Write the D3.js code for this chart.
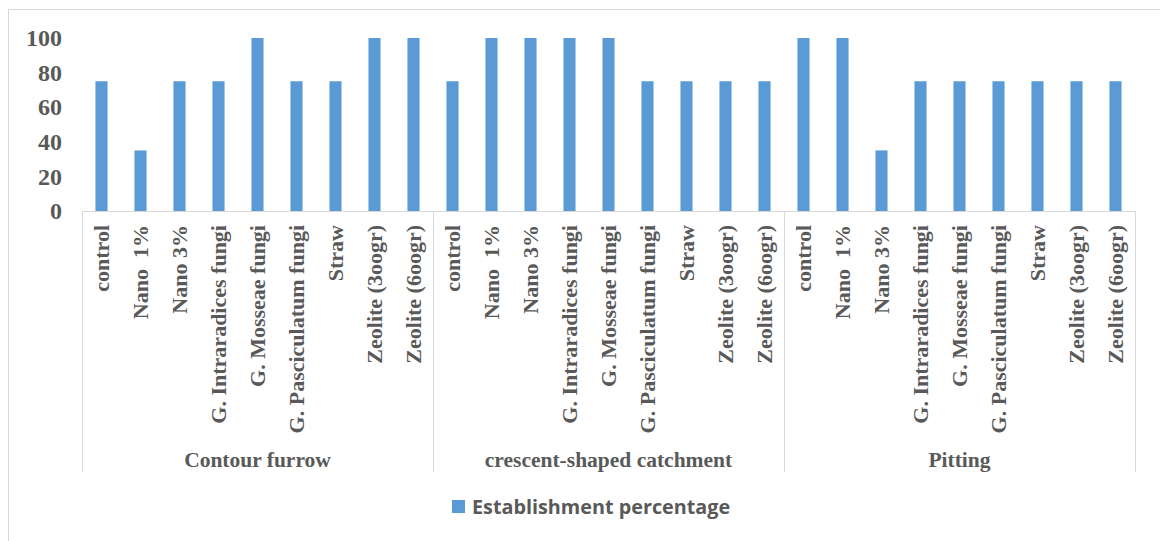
<!DOCTYPE html>
<html>
<head>
<meta charset="utf-8">
<script src="https://cdn.jsdelivr.net/npm/d3@7"></script>
<style>
  body { margin: 0; background: #fff; }
  svg { display: block; }
</style>
</head>
<body>
<div id="chart"></div>
<script>
// grouped category bar chart

const groups = ["Contour furrow", "crescent-shaped catchment", "Pitting"];
const treatments = ["control", "Nano  1%", "Nano 3%", "G. Intraradices fungi", "G. Mosseae fungi",
    "G. Pasciculatum fungi", "Straw", "Zeolite (3oogr)", "Zeolite (6oogr)"];
const contourValues = [75, 35, 75, 75, 100, 75, 75, 100, 100];
const crescentValues = [75, 100, 100, 100, 100, 75, 75, 75, 75];
const pittingValues = [100, 100, 35, 75, 75, 75, 75, 75, 75];
const yTicks = [0, 20, 40, 60, 80, 100];
const seriesName = "Establishment percentage";

const width = 1160, height = 541;
const margin = { top: 38, right: 25, left: 82 };
const baseY = 211;      // y of the zero line
const axisBottom = 472; // where the group dividers end
const barColor = "#5B9BD5";
const textColor = "#595959";
const lineColor = "#D9D9D9";
const serif = "'Liberation Serif', 'Times New Roman', serif";

const valuesByGroup = [contourValues, crescentValues, pittingValues];
const data = [];
groups.forEach((g, gi) => {
    treatments.forEach((t, ti) => data.push({ group: g, treatment: t, value: valuesByGroup[gi][ti] }));
});

const svg = d3.select("#chart").append("svg")
    .attr("width", width)
    .attr("height", height);

// chart area border (right and bottom edges fall off the page)
svg.append("rect")
    .attr("x", 8.5).attr("y", 9.5)
    .attr("width", width).attr("height", height)
    .attr("fill", "none")
    .attr("stroke", lineColor);

const x0 = d3.scaleBand()
    .domain(groups)
    .range([margin.left, width - margin.right])
    .padding(0);

const x1 = d3.scaleBand()
    .domain(treatments)
    .range([0, x0.bandwidth()])
    .paddingInner(0.69)
    .paddingOuter(0.345);

const y = d3.scaleLinear()
    .domain([0, 100])
    .range([baseY, margin.top]);

// Y axis labels only
const yAxis = svg.append("g")
    .attr("transform", `translate(${margin.left - 20},0)`)
    .call(d3.axisLeft(y).tickValues(yTicks).tickSize(0).tickPadding(0));
yAxis.select(".domain").remove();
yAxis.selectAll("text")
    .attr("fill", textColor)
    .attr("font-family", serif)
    .attr("font-weight", "bold")
    .attr("font-size", "24px");

// Bars
svg.append("g").selectAll("rect")
    .data(data)
    .enter()
    .append("rect")
    .attr("x", d => x0(d.group) + x1(d.treatment))
    .attr("y", d => y(d.value))
    .attr("width", x1.bandwidth())
    .attr("height", d => y(0) - y(d.value))
    .attr("fill", barColor);

// axis line + group dividers
svg.append("line")
    .attr("x1", x0.range()[0]).attr("x2", x0.range()[1])
    .attr("y1", y(0) + 0.5).attr("y2", y(0) + 0.5)
    .attr("stroke", lineColor);

const dividers = groups.map(g => x0(g)).concat([x0.range()[1]]);
svg.append("g").selectAll("line")
    .data(dividers)
    .enter()
    .append("line")
    .attr("x1", d => Math.round(d) + 0.5).attr("x2", d => Math.round(d) + 0.5)
    .attr("y1", y(0)).attr("y2", axisBottom)
    .attr("stroke", lineColor);

// Treatment labels (rotated)
svg.append("g").selectAll("text")
    .data(data)
    .enter()
    .append("text")
    .attr("transform", d => `translate(${x0(d.group) + x1(d.treatment) + x1.bandwidth() / 2 + 7},${y(0) + 14}) rotate(-90)`)
    .attr("text-anchor", "end")
    .attr("fill", textColor)
    .attr("font-family", serif)
    .attr("font-weight", "bold")
    .attr("font-size", "22px")
    .style("white-space", "pre")
    .text(d => d.treatment);

// Group labels
svg.append("g").selectAll("text")
    .data(groups)
    .enter()
    .append("text")
    .attr("x", d => x0(d) + x0.bandwidth() / 2)
    .attr("y", 467)
    .attr("text-anchor", "middle")
    .attr("fill", textColor)
    .attr("font-family", serif)
    .attr("font-weight", "bold")
    .attr("font-size", "21.5px")
    .text(d => d);

// Legend
const legend = svg.append("g").attr("transform", "translate(452,500)");
legend.append("rect")
    .attr("width", 13).attr("height", 13)
    .attr("fill", barColor);
legend.append("text")
    .attr("x", 20).attr("y", 14)
    .attr("fill", textColor)
    .attr("font-family", "'Open Sans', 'Noto Sans', sans-serif")
    .attr("font-weight", "bold")
    .attr("font-size", "19.8px")
    .text(seriesName);
</script>
</body>
</html>
